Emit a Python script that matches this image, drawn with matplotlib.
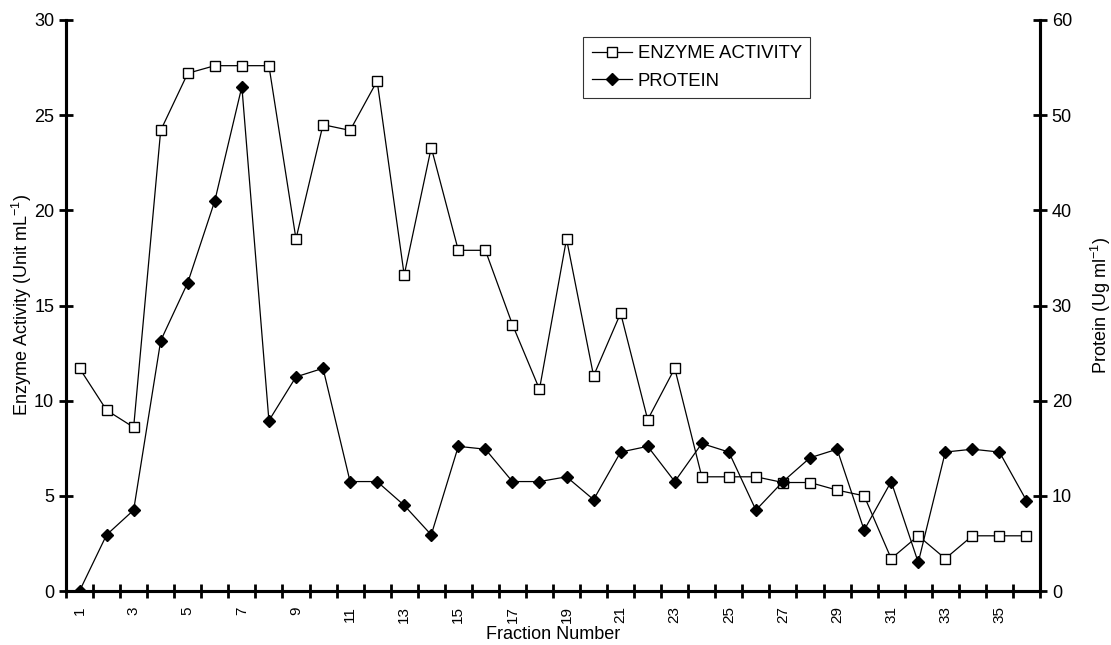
import numpy as np
import matplotlib.pyplot as plt
from matplotlib.ticker import FixedLocator

plt.rcParams['font.family'] = ['Liberation Sans', 'DejaVu Sans']
plt.rcParams['mathtext.default'] = 'regular'
plt.rcParams['axes.unicode_minus'] = False

# dados
fraction = list(range(1, 37))
enzyme = [11.7, 9.5, 8.6, 24.2, 27.2, 27.6, 27.6, 27.6, 18.5, 24.5,
          24.2, 26.8, 16.6, 23.3, 17.9, 17.9, 14.0, 10.6, 18.5, 11.3,
          14.6, 9.0, 11.7, 6.0, 6.0, 6.0, 5.7, 5.7, 5.3, 5.0,
          1.7, 2.9, 1.7, 2.9, 2.9, 2.9]
protein = [0.0, 5.9, 8.5, 26.3, 32.4, 41.0, 53.0, 17.9, 22.5, 23.4,
           11.5, 11.5, 9.0, 5.9, 15.2, 14.9, 11.5, 11.5, 12.0, 9.6,
           14.6, 15.2, 11.5, 15.5, 14.6, 8.5, 11.5, 14.0, 14.9, 6.4,
           11.5, 3.0, 14.6, 14.9, 14.6, 9.5]
tick_labels = [str(n) for n in fraction if n % 2 == 1]

fig = plt.figure(figsize=(11.11, 6.45), dpi=100)
ax = fig.add_axes([66/1111, 54/645, 974/1111, 571/645])
ax2 = ax.twinx()

l1, = ax.plot(fraction, enzyme, color='black', lw=0.9, marker='s', ms=6.5,
              mfc='white', mec='black', mew=1.0, label='ENZYME ACTIVITY', zorder=3)
l2, = ax2.plot(fraction, protein, color='black', lw=0.9, marker='D', ms=6,
               mfc='black', mec='black', label='PROTEIN', zorder=3)

ax.set_xlim(0.5, 36.5)
ax.set_ylim(0, 30)
ax2.set_ylim(0, 60)
ax.set_yticks(np.arange(0, 31, 5))
ax2.set_yticks(np.arange(0, 61, 10))

ax.set_xticks([n for n in fraction if n % 2 == 1])
ax.set_xticklabels(tick_labels, rotation=90, fontsize=11)
ax.xaxis.set_minor_locator(FixedLocator(np.arange(0.5, 37, 1)))
ax.tick_params(axis='x', which='major', length=0, pad=11)
ax.tick_params(axis='x', which='minor', direction='inout', length=10, width=2)

ax.tick_params(axis='y', direction='inout', length=10, width=2, labelsize=13)
ax2.tick_params(axis='y', direction='inout', length=10, width=2, labelsize=13)

for a in (ax, ax2):
    a.spines['top'].set_visible(False)
    for s in ('left', 'right', 'bottom'):
        a.spines[s].set_linewidth(2.2)

ax.set_xlabel('Fraction Number', fontsize=13, labelpad=2)
ax.set_ylabel('Enzyme Activity (Unit mL$^{-1}$)', fontsize=13, labelpad=0)
ax2.set_ylabel('Protein (Ug ml$^{-1}$)', fontsize=13, labelpad=12)

leg = ax.legend([l1, l2], ['ENZYME ACTIVITY', 'PROTEIN'], loc='upper left',
                bbox_to_anchor=(0.531, 0.97), borderaxespad=0, fontsize=13.3,
                frameon=True, fancybox=False, edgecolor='black', handlelength=2.2,
                handletextpad=0.3, borderpad=0.45, labelspacing=0.55)
leg.get_frame().set_linewidth(0.8)

fig.savefig('out.png', dpi=100)
